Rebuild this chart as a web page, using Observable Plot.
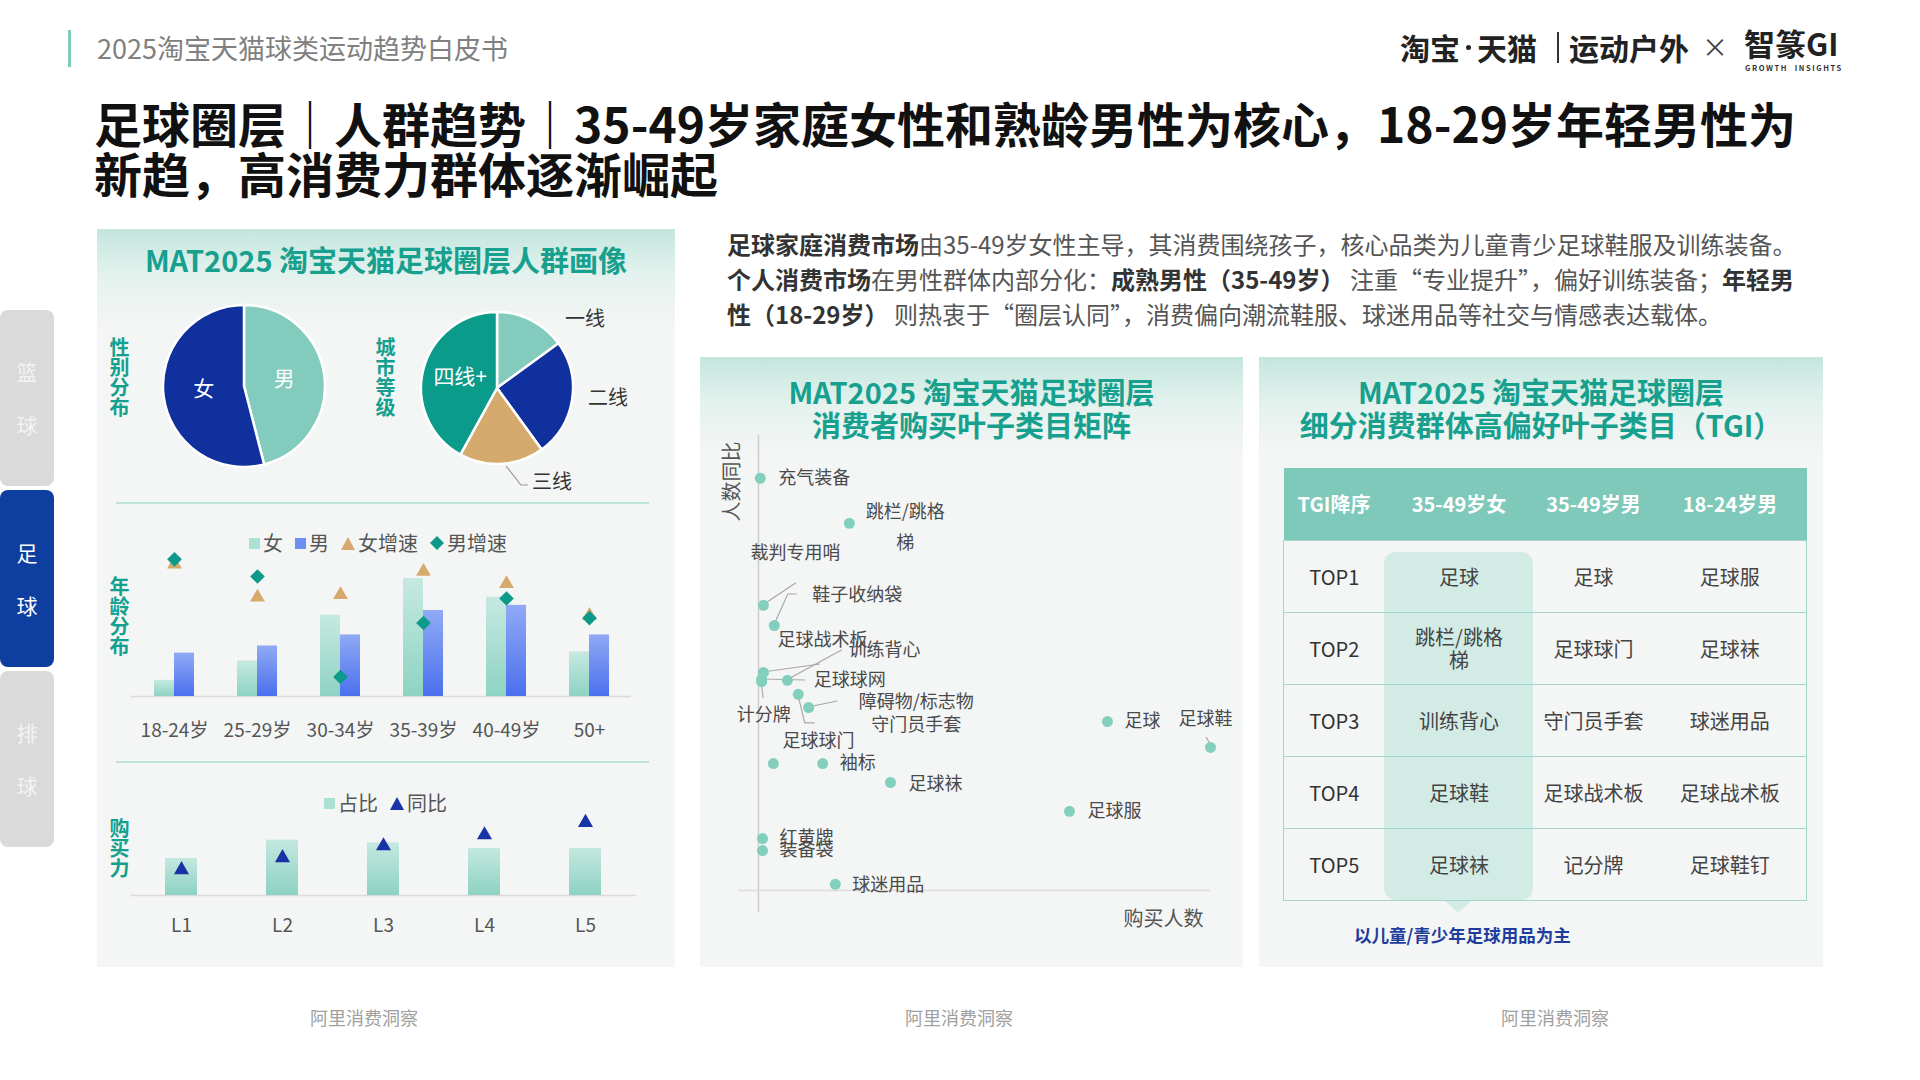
<!DOCTYPE html>
<html>
<head>
<meta charset="utf-8">
<script src="https://cdn.jsdelivr.net/npm/d3@7"></script>
<script src="https://cdn.jsdelivr.net/npm/@observablehq/plot@0.6"></script>
<style>
*{margin:0;padding:0;box-sizing:border-box}
body{width:1920px;height:1080px;background:#fff;font-family:"Noto Sans CJK SC","Noto Sans",sans-serif;position:relative;overflow:hidden;color:#333}
.abs{position:absolute}
.title{font-size:48px;font-weight:700;color:#111;line-height:48px;white-space:nowrap}
.panel{position:absolute;background:linear-gradient(180deg,#c3e6de 0px,#e3f2ee 45px,#f4f5f5 95px,#f4f5f5 100%)}
.ptitle{position:absolute;font-size:29px;font-weight:700;color:#17a08e;text-align:center;line-height:33px;white-space:nowrap}
.vlabel{position:absolute;writing-mode:vertical-rl;font-size:20px;line-height:20px;font-weight:700;color:#14a08e;letter-spacing:0}
.sep{position:absolute;height:2px;background:#bfe3da}
.tab{position:absolute;left:0;width:54px;border-radius:8px;display:flex;flex-direction:column;align-items:center;justify-content:center;font-size:21px;line-height:53px}
.legend{position:absolute;display:flex;align-items:center;font-size:20px;color:#555;white-space:nowrap;line-height:24px}
.legend .sq{display:inline-block;width:11px;height:11px;margin-right:3px}
.legend svg{margin-right:3px}
.legend .it{display:flex;align-items:center;margin-right:12px}
.para{position:absolute;font-size:24px;line-height:35px;color:#555;white-space:nowrap}
.para b{color:#333;font-weight:700}
.foot{position:absolute;top:1004px;font-size:18px;color:#a0a0a0;transform:translateX(-50%);white-space:nowrap}
.logo{position:absolute;font-size:30px;line-height:36px;font-weight:700;color:#222;white-space:nowrap}
#tgi{position:absolute;left:1283px;top:468px;width:523px;border-collapse:collapse;table-layout:fixed}
#tgi th{height:72px;background:#7ec9b9;color:#fff;font-size:20px;font-weight:700;text-align:center}
#tgi td{height:72px;border-top:1.5px solid #a3d7cb;font-size:20px;color:#444;text-align:center;white-space:pre-line;line-height:23px}
#tgi td:first-child{color:#333}
#tgi tbody tr:last-child td{border-bottom:1.5px solid #a3d7cb}
#tgi td:first-child{border-left:1.5px solid #a3d7cb}
#tgi td:last-child{border-right:1.5px solid #a3d7cb}
</style>
</head>
<body>
<script>
// ================= DATA =================
const genderNames = ["男", "女"];
const genderShare = [46, 54];

const cityTiers = ["一线", "二线", "三线", "四线+"];
const cityShare = [15, 25, 18, 42];

const ageGroups = ["18-24岁", "25-29岁", "30-34岁", "35-39岁", "40-49岁", "50+"];
const femaleShare = [4.1, 9.0, 20.6, 29.9, 25.2, 11.3];
const maleShare = [11.0, 12.8, 15.6, 21.8, 23.1, 15.6];
const femaleGrowth = [54, 40.5, 41.5, 51, 46, 33];
const maleGrowth = [56, 49, 8, 30, 40, 32];

const powerLevels = ["L1", "L2", "L3", "L4", "L5"];
const powerShare = [15.5, 23.2, 22.0, 19.7, 19.7];
const powerYoY = [7.5, 11.0, 14.5, 17.7, 21.3];

const leafItems = ["充气装备", "跳栏/跳格梯", "裁判专用哨", "鞋子收纳袋", "足球战术板", "足球球网", "计分牌", "训练背心",
  "守门员手套", "障碍物/标志物", "足球球门", "袖标", "足球袜", "足球服", "足球", "足球鞋", "红黄牌", "装备袋", "球迷用品"];
const leafBuyers = [0.4, 20.1, 1.1, 3.5, 1.1, 0.7, 0.7, 6.4, 8.8, 11.1, 3.3, 14.2, 29.2, 68.8, 77.2, 100, 0.9, 0.9, 17.0];
const leafYoY = [100, 89.1, 69.2, 64.3, 52.9, 51.2, 50.7, 51.0, 47.6, 44.4, 30.8, 30.8, 26.2, 19.2, 41.0, 34.7, 12.6, 9.7, 1.5];

const tgiColumns = ["TGI降序", "35-49岁女", "35-49岁男", "18-24岁男"];
const tgiRanks = ["TOP1", "TOP2", "TOP3", "TOP4", "TOP5"];
const tgiFemale3549 = ["足球", "跳栏/跳格\n梯", "训练背心", "足球鞋", "足球袜"];
const tgiMale3549 = ["足球", "足球球门", "守门员手套", "足球战术板", "记分牌"];
const tgiMale1824 = ["足球服", "足球袜", "球迷用品", "足球战术板", "足球鞋钉"];

// ================= STATIC LAYOUT =================
document.body.insertAdjacentHTML("beforeend", `
<div class="abs" style="left:68px;top:30px;width:3px;height:37px;background:#7fcab9"></div>
<div class="abs" style="left:97px;top:29px;font-size:27px;line-height:37px;color:#808080;white-space:nowrap">2025淘宝天猫球类运动趋势白皮书</div>

<div class="logo" style="left:1400px;top:29px">淘宝</div>
<div class="abs" style="left:1466px;top:45px;width:5px;height:5px;border-radius:50%;background:#222"></div>
<div class="logo" style="left:1477px;top:29px">天猫</div>
<div class="abs" style="left:1557px;top:32px;width:2px;height:31px;background:#333"></div>
<div class="logo" style="left:1569px;top:29px">运动户外</div>
<div class="abs" style="left:1702px;top:28px;font-size:26px;line-height:36px;color:#444">×</div>
<div class="logo" style="left:1744px;top:25px;font-size:31px">智篆GI</div>
<div class="abs" style="left:1745px;top:63px;font-size:7.5px;line-height:9px;font-weight:700;color:#333;letter-spacing:1.6px;white-space:nowrap">GROWTH&nbsp; INSIGHTS</div>

<div class="abs title" style="left:94px;top:98px">足球圈层｜人群趋势｜35-49岁家庭女性和熟龄男性为核心，18-29岁年轻男性为</div>
<div class="abs title" style="left:94px;top:148px">新趋，高消费力群体逐渐崛起</div>

<div class="tab" style="top:310px;height:176px;background:#dadada;color:#f3f3f3"><span>篮</span><span>球</span></div>
<div class="tab" style="top:490px;height:177px;background:#0e3fa0;color:#fff"><span>足</span><span>球</span></div>
<div class="tab" style="top:671px;height:176px;background:#dadada;color:#f3f3f3"><span>排</span><span>球</span></div>

<div class="panel" style="left:97px;top:229px;width:578px;height:738px"></div>
<div class="panel" style="left:700px;top:357px;width:543px;height:610px"></div>
<div class="panel" style="left:1259px;top:357px;width:564px;height:610px"></div>

<div class="ptitle" style="left:97px;width:578px;top:243px">MAT2025 淘宝天猫足球圈层人群画像</div>
<div class="ptitle" style="left:700px;width:543px;top:375px">MAT2025 淘宝天猫足球圈层<br>消费者购买叶子类目矩阵</div>
<div class="ptitle" style="left:1259px;width:564px;top:375px">MAT2025 淘宝天猫足球圈层<br>细分消费群体高偏好叶子类目（TGI）</div>

<div class="vlabel" style="left:109px;top:337px">性别分布</div>
<div class="vlabel" style="left:375px;top:337px">城市等级</div>
<div class="vlabel" style="left:109px;top:576px">年龄分布</div>
<div class="vlabel" style="left:109px;top:818px">购买力</div>

<div class="sep" style="left:116px;top:502px;width:533px"></div>
<div class="sep" style="left:116px;top:761px;width:533px"></div>

<div class="legend" style="left:249px;top:531px">
  <span class="it"><span class="sq" style="background:#ade0d5"></span>女</span>
  <span class="it"><span class="sq" style="background:#6d8ef2"></span>男</span>
  <span class="it"><svg width="14" height="13"><path d="M7 0L14 13H0Z" fill="#d6a96c"/></svg>女增速</span>
  <span class="it"><svg width="14" height="14"><path d="M7 0L14 7L7 14L0 7Z" fill="#0e9a8a"/></svg>男增速</span>
</div>
<div class="legend" style="left:324px;top:791px">
  <span class="it"><span class="sq" style="background:#ade0d5"></span>占比</span>
  <span class="it"><svg width="14" height="13"><path d="M7 0L14 13H0Z" fill="#1733a6"/></svg>同比</span>
</div>

<div class="para" style="left:727px;top:226px">
<div><b>足球家庭消费市场</b>由35-49岁女性主导，其消费围绕孩子，核心品类为儿童青少足球鞋服及训练装备。</div>
<div><b>个人消费市场</b>在男性群体内部分化：<b>成熟男性（35-49岁）</b> 注重“专业提升”，偏好训练装备；<b>年轻男</b></div>
<div><b>性（18-29岁）</b> 则热衷于“圈层认同”，消费偏向潮流鞋服、球迷用品等社交与情感表达载体。</div>
</div>

<div class="abs" style="left:1384px;top:552px;width:149px;height:348px;background:#d3ebe5;border-radius:12px"></div>
<div class="abs" style="left:1443px;top:899px;width:0;height:0;border-left:15px solid transparent;border-right:15px solid transparent;border-top:14px solid #d3ebe5"></div>
<div class="abs" style="left:1354px;top:923px;font-size:17.5px;line-height:24px;font-weight:700;color:#1f3d9e;white-space:nowrap">以儿童/青少年足球用品为主</div>

<div class="foot" style="left:364px">阿里消费洞察</div>
<div class="foot" style="left:959px">阿里消费洞察</div>
<div class="foot" style="left:1555px">阿里消费洞察</div>
`);

// ================= HELPERS =================
const FONT = '"Noto Sans CJK SC","Noto Sans",sans-serif';
function baseStyle(size) {
  return {background: "transparent", fontFamily: FONT, fontSize: size + "px", color: "#555", overflow: "visible"};
}
function place(node, left, top) {
  node.style.position = "absolute";
  node.style.left = left + "px";
  node.style.top = top + "px";
  document.body.appendChild(node);
  return node;
}
function addGrad(svg, id, top, bottom) {
  const defs = d3.select(svg).insert("defs", ":first-child");
  const lg = defs.append("linearGradient").attr("id", id).attr("x1", 0).attr("y1", 0).attr("x2", 0).attr("y2", 1);
  lg.append("stop").attr("offset", "0%").attr("stop-color", top);
  lg.append("stop").attr("offset", "100%").attr("stop-color", bottom);
}

// ================= PIES =================
const genderRows = genderNames.map((n, i) => ({name: n, value: genderShare[i]}));
const cityRows = cityTiers.map((n, i) => ({name: n, value: cityShare[i]}));
const pieColors = {"男": "#82cbbd", "女": "#10309d", "一线": "#82cbbd", "二线": "#10309d", "三线": "#d5aa6d", "四线+": "#0b9b8b"};
// label placement (px offsets from pie centre) — layout only
const pieLabelLayout = {
  "男": {inside: true}, "女": {inside: true}, "四线+": {inside: true},
  "一线": {dx: 88, dy: -71, anchor: "middle"},
  "二线": {dx: 111, dy: 8, anchor: "middle"},
  "三线": {dx: 35, dy: 92, anchor: "start", leader: [[9, 78], [24, 97], [31, 97]]}
};
function pieMark(rows, cx, cy, r) {
  return () => {
    const g = d3.create("svg:g").attr("transform", `translate(${cx},${cy})`);
    const arcs = d3.pie().sort(null).value(d => d.value)(rows);
    const arc = d3.arc().innerRadius(0).outerRadius(r);
    g.selectAll("path").data(arcs).join("path")
      .attr("d", arc).attr("fill", d => pieColors[d.data.name])
      .attr("stroke", "#fff").attr("stroke-width", 2.5).attr("stroke-linejoin", "round");
    arcs.forEach(a => {
      const L = pieLabelLayout[a.data.name];
      if (L.inside) {
        const [x, y] = arc.centroid(a);
        g.append("text").attr("x", x).attr("y", y - 4).attr("text-anchor", "middle").attr("dominant-baseline", "central")
          .attr("fill", "#fff").attr("font-size", 21).text(a.data.name);
      } else {
        if (L.leader) g.append("polyline").attr("points", L.leader.map(p => p.join(",")).join(" "))
          .attr("fill", "none").attr("stroke", "#9a9a9a").attr("stroke-width", 1.2);
        g.append("text").attr("x", L.dx).attr("y", L.dy).attr("text-anchor", L.anchor).attr("dominant-baseline", "central")
          .attr("fill", "#333").attr("font-size", 20).text(a.data.name);
      }
    });
    return g.node();
  };
}
place(Plot.plot({width: 200, height: 200, margin: 0, style: baseStyle(20),
  marks: [pieMark(genderRows, 100, 100, 81)]}), 144, 286);
place(Plot.plot({width: 260, height: 210, margin: 0, style: baseStyle(20),
  marks: [pieMark(cityRows, 97, 98, 76)]}), 400, 290);

// ================= AGE DISTRIBUTION =================
const ageRows = ageGroups.map((a, i) => ({age: a, female: femaleShare[i], male: maleShare[i], fg: femaleGrowth[i], mg: maleGrowth[i]}));
const ageX = {type: "band", domain: ageGroups, paddingInner: 0.52, paddingOuter: 0.26};
const ageDims = {width: 500, height: 205, marginTop: 10, marginBottom: 49, marginLeft: 0, marginRight: 0};
const ageBars = Plot.plot({
  ...ageDims, style: baseStyle(19),
  x: {...ageX, label: null, tickSize: 0, tickPadding: 27},
  y: {domain: [0, 37], axis: null},
  marks: [
    Plot.ruleY([0], {stroke: "#dadada", strokeWidth: 1.5}),
    Plot.barY(ageRows, {x: "age", y: "female", fill: "url(#gradFemale)", insetRight: 20}),
    Plot.barY(ageRows, {x: "age", y: "male", fill: "url(#gradMale)", insetLeft: 20})
  ]
});
addGrad(ageBars, "gradFemale", "#c6e9e1", "#8ed3c3");
addGrad(ageBars, "gradMale", "#90aaf5", "#4b70ee");
place(ageBars, 131, 540);
place(Plot.plot({
  ...ageDims, style: baseStyle(19),
  x: {...ageX, axis: null},
  y: {domain: [0, 59.6], axis: null},
  marks: [
    Plot.dot(ageRows, {x: "age", y: "fg", symbol: "triangle", r: 5.5, fill: "#d6a96c"}),
    Plot.dot(ageRows, {x: "age", y: "mg", symbol: "diamond2", r: 6.6, fill: "#0e9a8a"})
  ]
}), 131, 540);

// ================= PURCHASE POWER =================
const powerRows = powerLevels.map((l, i) => ({level: l, share: powerShare[i], yoy: powerYoY[i]}));
const powerX = {type: "band", domain: powerLevels, paddingInner: 0.68, paddingOuter: 0.34};
const powerDims = {width: 505, height: 135, marginTop: 15, marginBottom: 45, marginLeft: 0, marginRight: 0};
const powerBars = Plot.plot({
  ...powerDims, style: baseStyle(19),
  x: {...powerX, label: null, tickSize: 0, tickPadding: 23},
  y: {domain: [0, 31.4], axis: null},
  marks: [
    Plot.ruleY([0], {stroke: "#dadada", strokeWidth: 1.5}),
    Plot.barY(powerRows, {x: "level", y: "share", fill: "url(#gradPower)"})
  ]
});
addGrad(powerBars, "gradPower", "#c4e8e0", "#8dd2c2");
place(powerBars, 131, 805);
place(Plot.plot({
  ...powerDims, style: baseStyle(19),
  x: {...powerX, axis: null},
  y: {domain: [0, 21.9], axis: null},
  marks: [Plot.dot(powerRows, {x: "level", y: "yoy", symbol: "triangle", r: 5.6, fill: "#1733a6"})]
}), 131, 805);

// ================= LEAF CATEGORY MATRIX =================
const leafRows = leafItems.map((n, i) => ({name: n, x: leafBuyers[i], y: leafYoY[i]}));
// label offsets and leader polylines in px (layout only)
const leafLabelLayout = {
  "充气装备": {dx: 18, dy: 0, anchor: "start"},
  "跳栏/跳格梯": {text: "跳栏/跳格\n梯", dx: 56, dy: 0, anchor: "middle", lh: 1.75},
  "裁判专用哨": {dx: 32, dy: -52, anchor: "middle", leader: [[0, 0], [33, -22]]},
  "鞋子收纳袋": {dx: 38, dy: -30, anchor: "start", leader: [[0, 0], [14, -31], [23, -31]]},
  "足球战术板": {dx: 14, dy: -32, anchor: "start", leader: [[0, 0], [57, -8]]},
  "足球球网": {dx: 52, dy: 1, anchor: "start", leader: [[0, 0], [44, 1]]},
  "计分牌": {dx: 2, dy: 34, anchor: "middle", leader: [[0, 0], [2, 17]]},
  "训练背心": {dx: 61, dy: -30, anchor: "start", leader: [[0, 0], [55, -30]]},
  "守门员手套": {dx: 73, dy: 31, anchor: "start", leader: [[0, 0], [7, 29], [17, 29]]},
  "障碍物/标志物": {dx: 50, dy: -5, anchor: "start", leader: [[0, 0], [29, -6]]},
  "足球球门": {dx: 45, dy: -22, anchor: "middle"},
  "袖标": {dx: 17, dy: 0, anchor: "start"},
  "足球袜": {dx: 18, dy: 2, anchor: "start"},
  "足球服": {dx: 18, dy: 0, anchor: "start"},
  "足球": {dx: 17, dy: 0, anchor: "start"},
  "足球鞋": {dx: -5, dy: -28, anchor: "middle", leader: [[-4, -10], [0, -3]]},
  "红黄牌": {dx: 17, dy: 0, anchor: "start"},
  "装备袋": {dx: 17, dy: 0, anchor: "start"},
  "球迷用品": {dx: 17, dy: 1, anchor: "start"}
};
function leaderMark(index, scales) {
  const sx = typeof scales.x === "function" ? scales.x : scales.scales.x.apply;
  const sy = typeof scales.y === "function" ? scales.y : scales.scales.y.apply;
  const g = d3.create("svg:g").attr("fill", "none").attr("stroke", "#a8a8a8").attr("stroke-width", 1.2);
  leafRows.forEach(d => {
    const L = leafLabelLayout[d.name];
    if (!L.leader) return;
    const px = sx(d.x), py = sy(d.y);
    g.append("polyline").attr("points", L.leader.map(([a, b]) => `${px + a},${py + b}`).join(" "));
  });
  return g.node();
}
const leafLabels = leafRows.map(d => {
  const L = leafLabelLayout[d.name];
  return Plot.text([d], {x: "x", y: "y", text: () => L.text ?? d.name, dx: L.dx, dy: L.dy,
    textAnchor: L.anchor, fontSize: 18, fill: "#4a4a4a", lineHeight: L.lh ?? 1});
});
place(Plot.plot({
  width: 543, height: 520, marginLeft: 38, marginRight: 33, marginTop: 15, marginBottom: 28,
  style: baseStyle(18),
  x: {domain: [-4.42, 100], axis: null},
  y: {domain: [-5.34, 110.4], axis: null},
  marks: [
    Plot.ruleX([0], {stroke: "#cdcdcd", strokeWidth: 1.5}),
    Plot.ruleY([0], {stroke: "#dcdcdc", strokeWidth: 1.5}),
    leaderMark,
    Plot.dot(leafRows, {x: "x", y: "y", r: 5.5, fill: "#83cfbd"}),
    ...leafLabels,
    Plot.text(["人数同比"], {frameAnchor: "top-left", textAnchor: "middle", lineAnchor: "middle", rotate: -90, dx: -6, dy: 46, fontSize: 20, fill: "#555"}),
    Plot.text(["购买人数"], {frameAnchor: "bottom-right", textAnchor: "end", lineAnchor: "middle", dx: -7, dy: 7, fontSize: 20, fill: "#555"})
  ]
}), 700, 420);

// ================= TGI TABLE =================
const table = document.createElement("table");
table.id = "tgi";
const widths = [101, 149, 120, 153];
table.innerHTML = `<colgroup>${widths.map(w => `<col style="width:${w}px">`).join("")}</colgroup>
<thead><tr>${tgiColumns.map(c => `<th>${c}</th>`).join("")}</tr></thead>
<tbody>${tgiRanks.map((r, i) => `<tr><td>${r}</td><td>${tgiFemale3549[i]}</td><td>${tgiMale3549[i]}</td><td>${tgiMale1824[i]}</td></tr>`).join("")}</tbody>`;
document.body.appendChild(table);
</script>
</body>
</html>
